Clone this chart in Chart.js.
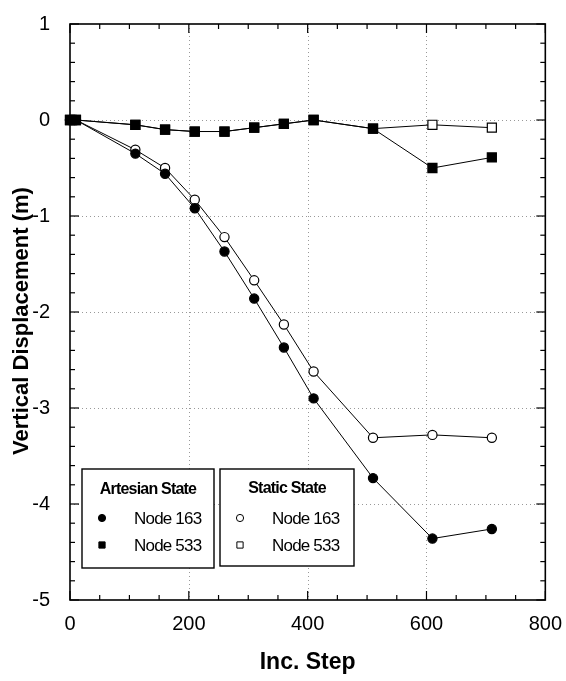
<!DOCTYPE html>
<html>
<head>
<meta charset="utf-8">
<script src="https://cdn.jsdelivr.net/npm/chart.js@4"></script>
<style>
  body { margin: 0; background: #fff; }
  #zone { width: 566px; height: 681px; }
</style>
</head>
<body>
<div id="zone"><canvas id="graphique" width="566" height="681"></canvas></div>
<script>
// Pas d'incrément (axe x)
const PAS = [0, 10, 110, 160, 210, 260, 310, 360, 410, 510, 610, 710];

// Déplacements verticaux (m)
const ARTESIEN_163 = [0, 0, -0.35, -0.56, -0.92, -1.37, -1.86, -2.37, -2.90, -3.73, -4.36, -4.26];
const ARTESIEN_533 = [0, 0, -0.05, -0.10, -0.12, -0.12, -0.08, -0.04, 0.00, -0.09, -0.50, -0.39];
const STATIQUE_163 = [0, 0, -0.31, -0.50, -0.83, -1.22, -1.67, -2.13, -2.62, -3.31, -3.28, -3.31];
const STATIQUE_533 = [0, 0, -0.05, -0.10, -0.12, -0.12, -0.08, -0.04, 0.00, -0.09, -0.05, -0.08];

const TICKS_X = [0, 200, 400, 600, 800];
const TICKS_Y = [1, 0, -1, -2, -3, -4, -5];

const TITRE_Y = 'Vertical Displacement (m)';
const POLICE = "'Liberation Sans', Arial, sans-serif";

function points(valeurs) {
  return PAS.map((x, i) => ({ x, y: valeurs[i] }));
}

function serie(label, valeurs, style, plein) {
  return {
    label,
    data: points(valeurs),
    showLine: true,
    borderColor: '#000',
    borderWidth: 1,
    pointStyle: style,
    pointRadius: style === 'rect' ? 6.4 : 4.6,
    pointBorderWidth: 1.2,
    pointBorderColor: '#000',
    pointBackgroundColor: plein ? '#000' : '#fff',
    clip: false,
  };
}

// le premier jeu est dessiné au-dessus
const jeux = [
  serie('Node 533', ARTESIEN_533, 'rect', true),
  serie('Node 163', ARTESIEN_163, 'circle', true),
  serie('Node 533', STATIQUE_533, 'rect', false),
  serie('Node 163', STATIQUE_163, 'circle', false),
];

const LEGENDE = [
  { titre: 'Artesian State', jeux: [1, 0], cadre: [82, 469, 132, 99], titreX: 148, titreY: 490, repereX: 102, texteX: 134 },
  { titre: 'Static State', jeux: [3, 2], cadre: [220, 469, 134, 97], titreX: 287, titreY: 489, repereX: 240, texteX: 272 },
];

function trait(ctx, x1, y1, x2, y2) {
  ctx.beginPath();
  ctx.moveTo(x1, y1);
  ctx.lineTo(x2, y2);
  ctx.stroke();
}

const cadrePlugin = {
  id: 'cadre',
  beforeDatasetsDraw(chart) {
    const { ctx, chartArea: a, scales: { x, y } } = chart;
    ctx.save();

    // grille pointillée
    ctx.strokeStyle = '#999';
    ctx.lineWidth = 1;
    ctx.setLineDash([1, 3]);
    x.ticks.forEach((t) => {
      if (t.value <= x.min || t.value >= x.max) return;
      const px = Math.round(x.getPixelForValue(t.value)) + 0.5;
      trait(ctx, px, a.top, px, a.bottom);
    });
    y.ticks.forEach((t) => {
      if (t.value <= y.min || t.value >= y.max) return;
      const py = Math.round(y.getPixelForValue(t.value)) + 0.5;
      trait(ctx, a.left, py, a.right, py);
    });
    ctx.setLineDash([]);

    // graduations intérieures
    ctx.strokeStyle = '#000';
    ctx.lineWidth = 1.2;
    for (let v = x.min; v <= x.max + 1e-6; v += 50) {
      const px = x.getPixelForValue(v);
      const long = v % 200 === 0 ? 9 : 5;
      trait(ctx, px, a.bottom, px, a.bottom - long);
      trait(ctx, px, a.top, px, a.top + long);
    }
    for (let k = 0; k <= 30; k++) {
      const v = y.min + k * 0.2;
      const py = y.getPixelForValue(v);
      const long = k % 5 === 0 ? 9 : 5;
      trait(ctx, a.left, py, a.left + long, py);
      trait(ctx, a.right, py, a.right - long, py);
    }

    // cadre
    ctx.lineWidth = 1.6;
    ctx.strokeRect(a.left, a.top, a.right - a.left, a.bottom - a.top);

    // titre de l'axe y
    ctx.translate(22, 321);
    ctx.rotate(-Math.PI / 2);
    ctx.fillStyle = '#000';
    ctx.textAlign = 'center';
    ctx.textBaseline = 'middle';
    ctx.font = `bold 22px ${POLICE}`;
    ctx.fillText(TITRE_Y, 0, 0);
    ctx.restore();
  },
  afterDraw(chart) {
    const ctx = chart.ctx;
    ctx.save();
    LEGENDE.forEach((g) => {
      const [bx, by, bw, bh] = g.cadre;
      ctx.fillStyle = '#fff';
      ctx.fillRect(bx, by, bw, bh);
      ctx.strokeStyle = '#000';
      ctx.lineWidth = 1.4;
      ctx.strokeRect(bx, by, bw, bh);

      ctx.fillStyle = '#000';
      ctx.textBaseline = 'middle';
      ctx.textAlign = 'center';
      ctx.letterSpacing = '-0.8px';
      ctx.font = `bold 16px ${POLICE}`;
      ctx.fillText(g.titre, g.titreX, g.titreY);

      ctx.textAlign = 'left';
      ctx.font = `17px ${POLICE}`;
      g.jeux.forEach((idx, i) => {
        const ds = chart.data.datasets[idx];
        const yy = 518 + i * 27;
        ctx.lineWidth = 1;
        ctx.strokeStyle = '#000';
        ctx.fillStyle = ds.pointBackgroundColor;
        Chart.helpers.drawPoint(ctx, {
          pointStyle: ds.pointStyle,
          radius: ds.pointStyle === 'rect' ? 4.4 : 3.6,
          rotation: 0,
          borderWidth: 1,
        }, g.repereX, yy);
        ctx.fillStyle = '#000';
        ctx.fillText(ds.label, g.texteX, yy + 1);
      });
    });
    ctx.restore();
  },
};

new Chart(document.getElementById('graphique'), {
  type: 'scatter',
  data: { datasets: jeux },
  options: {
    responsive: false,
    animation: false,
    layout: { padding: { top: 16, right: 19, left: 0, bottom: 0 } },
    plugins: { legend: { display: false }, tooltip: { enabled: false } },
    scales: {
      x: {
        type: 'linear',
        min: 0,
        max: 800,
        afterBuildTicks: (s) => { s.ticks = TICKS_X.map((v) => ({ value: v })); },
        afterFit: (s) => { s.height = 81; },
        grid: { display: false },
        border: { display: false },
        ticks: { color: '#000', padding: 4, font: { family: POLICE, size: 20 } },
        title: {
          display: true,
          text: 'Inc. Step',
          color: '#000',
          padding: { top: 0, bottom: 5 },
          font: { family: POLICE, size: 23, weight: 'bold' },
        },
      },
      y: {
        type: 'linear',
        min: -5,
        max: 1,
        afterBuildTicks: (s) => { s.ticks = TICKS_Y.map((v) => ({ value: v })); },
        afterFit: (s) => { s.width = 70; },
        grid: { display: false },
        border: { display: false },
        ticks: { color: '#000', padding: 12, font: { family: POLICE, size: 20 } },
      },
    },
  },
  plugins: [cadrePlugin],
});
</script>
</body>
</html>
